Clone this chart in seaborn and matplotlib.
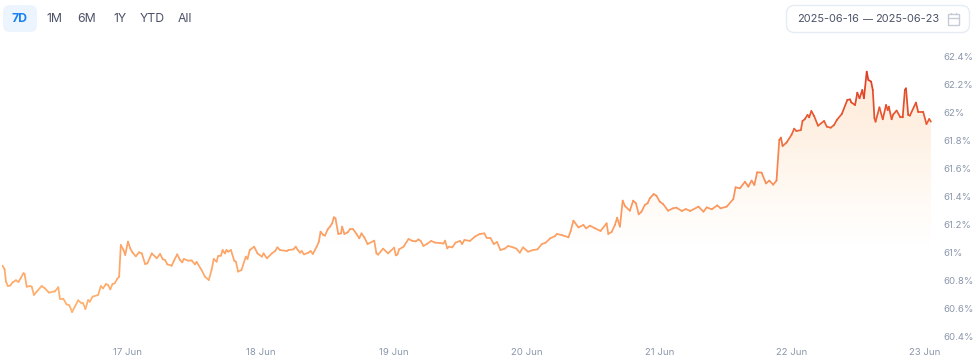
import matplotlib
matplotlib.use("Agg")
import matplotlib.pyplot as plt
import numpy as np
import pandas as pd
import seaborn as sns
from matplotlib.colors import LinearSegmentedColormap
from matplotlib.patches import FancyBboxPatch, Rectangle

# hours since 16 Jun 00:00
hours = [
    1.35, 1.7, 1.95, 2.3, 2.7, 3.15, 3.75, 4.2, 4.6, 5.1, 5.3, 5.7, 6.3, 6.6, 7.0, 7.5, 8.4, 9.0, 9.7, 10.8,
    11.4, 11.7, 12.3, 12.9, 13.4, 13.9, 14.4, 15.0, 15.6, 15.9, 16.3, 16.8, 17.1, 17.6, 18.6, 19.1, 19.5, 20.0,
    20.4, 20.8, 21.2, 21.6, 22.0, 22.4, 22.7, 23.2, 23.5, 24.0, 24.4, 24.8, 25.4, 26.0, 26.5, 27.1, 27.5, 28.3,
    28.9, 29.2, 29.8, 30.3, 30.7, 31.1, 31.9, 32.3, 32.9, 33.4, 33.8, 34.1, 34.9, 35.5, 36.1, 36.4, 37.3, 37.9,
    38.6, 39.1, 39.5, 40.0, 40.3, 40.8, 41.1, 41.5, 41.8, 42.1, 42.6, 43.2, 43.5, 43.9, 44.5, 45.3, 45.6, 46.0,
    46.8, 47.4, 48.2, 48.5, 49.1, 50.0, 50.6, 51.0, 51.5, 52.7, 53.0, 53.9, 54.3, 54.7, 55.1, 55.4, 55.8, 56.6,
    57.0, 57.4, 58.1, 58.5, 58.8, 59.3, 59.6,
    60.1, 60.5, 60.9, 61.2, 61.5, 62.0, 62.5, 62.7, 63.1, 63.7, 64.1, 64.7, 65.3, 65.8, 66.2, 66.7, 67.3, 68.5,
    68.9, 69.2, 70.1, 71.0, 72.1, 72.4, 72.7, 73.0, 73.8, 74.7, 75.4, 76.0, 76.5, 76.9, 77.4, 78.0, 78.8, 79.5,
    80.4, 81.0, 81.3, 81.7, 82.0, 82.6, 83.2, 84.0, 84.4, 84.8, 85.8, 86.7, 87.6, 88.4, 88.8, 89.5, 90.1, 90.7,
    91.3, 92.1, 92.7, 93.6, 94.2, 94.8, 95.4, 96.3, 97.2, 98.0, 98.8, 99.5, 100.3, 101.2, 101.5, 102.4, 103.6,
    104.0, 104.5, 105.4, 106.3, 106.8, 107.5, 108.4, 109.4, 110.5, 110.8, 111.4, 112.0, 112.4, 112.9, 113.4,
    113.8, 114.7, 115.3, 115.8, 116.3, 116.8, 117.4, 117.9, 118.3,
    119.0, 119.5, 120.1, 120.7, 121.6, 122.5, 123.1, 124.1, 124.8, 125.6, 127.1, 128.0, 128.6, 129.5, 130.5,
    131.1, 132.2, 133.4, 133.8, 134.6, 135.5, 136.1, 136.7, 137.2, 137.7, 138.5, 139.3, 139.9, 140.6, 141.2,
    141.7, 142.0, 142.3, 143.0, 143.9, 144.4, 144.8, 145.6, 145.9, 146.3, 146.8, 147.1, 147.5, 148.0, 148.7,
    149.8, 150.3, 151.0, 151.6, 152.1, 153.0, 154.0, 154.5, 154.7, 155.4, 155.8, 156.2, 156.7, 157.0, 157.5,
    157.8, 158.3, 158.6, 158.9, 159.1, 159.8, 160.4, 161.0, 161.3, 161.5, 162.0, 162.3, 162.9, 163.6, 164.0,
    164.4, 164.6, 165.0, 165.3, 166.4, 166.8, 167.7, 168.3, 168.8, 169.1,
]
pct = [
    60.902, 60.876, 60.788, 60.757, 60.76, 60.783, 60.798, 60.786, 60.812, 60.848, 60.845, 60.752, 60.757, 60.752,
    60.693, 60.717, 60.757, 60.74, 60.71, 60.719, 60.748, 60.667, 60.667, 60.626, 60.619, 60.571, 60.61, 60.655,
    60.633, 60.633, 60.593, 60.657, 60.645, 60.681, 60.693, 60.757, 60.74, 60.771, 60.764, 60.733, 60.771, 60.776,
    60.805, 60.824, 61.05, 61.014, 60.979, 61.074, 61.026, 60.998, 60.969, 60.998, 60.99, 60.914, 60.919, 60.99,
    60.967, 60.955, 60.986, 60.948, 60.943, 60.912, 60.902, 60.938, 60.983, 60.943, 60.926, 60.95, 60.938, 60.94,
    60.912, 60.929, 60.871, 60.824, 60.8, 60.871, 60.95, 60.931, 60.971, 60.974, 61.014, 60.99, 61.014, 61.002,
    61.014, 60.938, 60.931, 60.86, 60.871, 60.967, 60.95, 61.014, 61.038, 60.99, 60.967, 60.99, 60.955, 60.99,
    61.007, 61.033, 61.014, 61.007, 61.014, 61.019, 61.038, 61.014, 60.995, 61.007, 60.983, 60.995, 61.007, 60.986,
    61.038, 61.074, 61.145, 61.121, 61.117,
    61.162, 61.181, 61.205, 61.248, 61.24, 61.129, 61.133, 61.181, 61.129, 61.14, 61.162, 61.162, 61.129, 61.098,
    61.133, 61.105, 61.057, 61.081, 60.99, 60.981, 61.024, 60.99, 61.031, 60.976, 60.983, 61.019, 61.038, 61.093,
    61.079, 61.076, 61.09, 61.079, 61.043, 61.057, 61.079, 61.067, 61.064, 61.06, 61.081, 61.026, 61.038, 61.033,
    61.067, 61.079, 61.057, 61.086, 61.079, 61.11, 61.129, 61.133, 61.102, 61.102, 61.057, 61.071, 61.014, 61.024,
    61.043, 61.033, 61.024, 60.995, 61.033, 61.002, 61.014, 61.019, 61.057, 61.067, 61.098, 61.114, 61.129, 61.121,
    61.105, 61.15, 61.224, 61.176, 61.193, 61.169, 61.188, 61.169, 61.15, 61.205, 61.129, 61.143, 61.193, 61.245,
    61.181, 61.367, 61.329, 61.295, 61.367, 61.348, 61.269, 61.288, 61.336, 61.348, 61.383,
    61.414, 61.402, 61.36, 61.343, 61.295, 61.312, 61.317, 61.293, 61.307, 61.293, 61.324, 61.288, 61.319, 61.305,
    61.333, 61.312, 61.324, 61.379, 61.462, 61.455, 61.502, 61.467, 61.51, 61.479, 61.569, 61.567, 61.49, 61.51,
    61.481, 61.51, 61.8, 61.817, 61.757, 61.781, 61.836, 61.881, 61.864, 61.871, 61.936, 61.948, 61.979, 61.962,
    62.007, 61.971, 61.902, 61.936, 61.895, 61.888, 61.907, 61.943, 61.986, 62.086, 62.09, 62.069, 62.05, 62.138,
    62.098, 62.157, 62.098, 62.288, 62.229, 62.217, 62.157, 61.955, 61.931, 62.033, 61.948, 62.05, 62.014, 62.038,
    61.948, 61.983, 62.01, 61.962, 61.962, 62.157, 62.169, 61.979, 61.974, 62.067, 62.002, 62.002, 61.914, 61.95,
    61.931,
]
x_ticks = [24, 48, 72, 96, 120, 144, 168]
x_labels = ["17 Jun", "18 Jun", "19 Jun", "20 Jun", "21 Jun", "22 Jun", "23 Jun"]
y_ticks = [60.4, 60.6, 60.8, 61, 61.2, 61.4, 61.6, 61.8, 62, 62.2, 62.4]
y_labels = ["60.4%", "60.6%", "60.8%", "61%", "61.2%", "61.4%", "61.6%", "61.8%", "62%", "62.2%", "62.4%"]
ranges = ["7D", "1M", "6M", "1Y", "YTD", "All"]
date_from = "2025-06-16"
date_to = "2025-06-23"

sns.set_theme(style="white")
plt.rcParams["font.family"] = ["Inter", "DejaVu Sans"]

W, H = 975, 364
fig = plt.figure(figsize=(W / 100, H / 100), dpi=100)
ax = fig.add_axes([0, (H - 336) / H, 932 / W, 280 / H])

# one row pair per stretch of the line so the colour can follow the value
segs = pd.DataFrame({
    "hour": np.repeat(hours, 2)[1:-1],
    "pct": np.repeat(pct, 2)[1:-1],
    "seg": np.repeat(np.arange(len(hours) - 1), 2),
})
segs["level"] = segs.groupby("seg")["pct"].transform("mean")
line_cmap = LinearSegmentedColormap.from_list(
    "line", [(0, "#ffb26e"), (0.4, "#fb9a60"), (0.6, "#f78a55"), (0.72, "#ee6a3c"), (0.85, "#e54f2d"), (1, "#dd3a22")]
)
sns.lineplot(data=segs, x="hour", y="pct", hue="level", units="seg", estimator=None,
             palette=line_cmap, hue_norm=(60.6, 62.3), legend=False, ax=ax,
             linewidth=1.25, solid_capstyle="round", zorder=3)

# area under the line, fading out downwards
area = ax.fill_between(hours, pct, 60.4, facecolor="none", edgecolor="none")
fade = LinearSegmentedColormap.from_list("fade", ["#ffffff", "#fff9f2", "#fef0e2", "#feecdc"])
grad = ax.imshow(np.linspace(1, 0, 256).reshape(-1, 1), extent=(0, 170, 61.05, 62.3), aspect="auto",
                 cmap=fade, vmin=0, vmax=1, zorder=1)
grad.set_clip_path(area.get_paths()[0], transform=ax.transData)

ax.set_xlim(0.87, 169.3)
ax.set_ylim(60.4, 62.4)
ax.set_xticks(x_ticks, x_labels)
ax.set_yticks(y_ticks, y_labels)
ax.yaxis.tick_right()
ax.tick_params(axis="both", length=0, labelsize=6.9, labelcolor="#8a96aa")
ax.tick_params(axis="x", pad=8.5)
ax.tick_params(axis="y", pad=8.5)
ax.set_xlabel("")
ax.set_ylabel("")
ax.patch.set_alpha(0)
sns.despine(ax=ax, left=True, bottom=True, right=True, top=True)

# header controls, in pixel coordinates
ui = fig.add_axes([0, 0, 1, 1], zorder=5)
ui.set_xlim(0, W)
ui.set_ylim(H, 0)
ui.axis("off")
ui.add_patch(FancyBboxPatch((3, 5), 34, 27, boxstyle="round,pad=0,rounding_size=7", linewidth=0,
                            facecolor="#ecf4fd"))
for name, cx in zip(ranges, [20, 54, 87, 120, 152, 185]):
    active = name == "7D"
    ui.text(cx, 19, name, ha="center", va="center", fontsize=8.8,
            color="#1a7ff0" if active else "#4b5268", fontweight="bold" if active else "normal")

ui.add_patch(FancyBboxPatch((786.5, 5.5), 183, 27, boxstyle="round,pad=0,rounding_size=8", linewidth=1,
                            edgecolor="#e6ecf3", facecolor="white"))
ui.text(828, 19.5, date_from, ha="center", va="center", fontsize=7.9, color="#4b5268")
ui.text(868, 20, "—", ha="center", va="center", fontsize=7.2, color="#4b5268")
ui.text(907, 19.5, date_to, ha="center", va="center", fontsize=7.9, color="#4b5268")
ui.add_patch(Rectangle((947.5, 14), 11, 11, fill=False, edgecolor="#c6ccd6", linewidth=1))
ui.plot([947.5, 958.5], [17.5, 17.5], color="#c6ccd6", linewidth=1)
ui.plot([950.5, 950.5], [12.5, 14], color="#c6ccd6", linewidth=1)
ui.plot([955.5, 955.5], [12.5, 14], color="#c6ccd6", linewidth=1)

fig.savefig("out.png", dpi=100, facecolor="white")
